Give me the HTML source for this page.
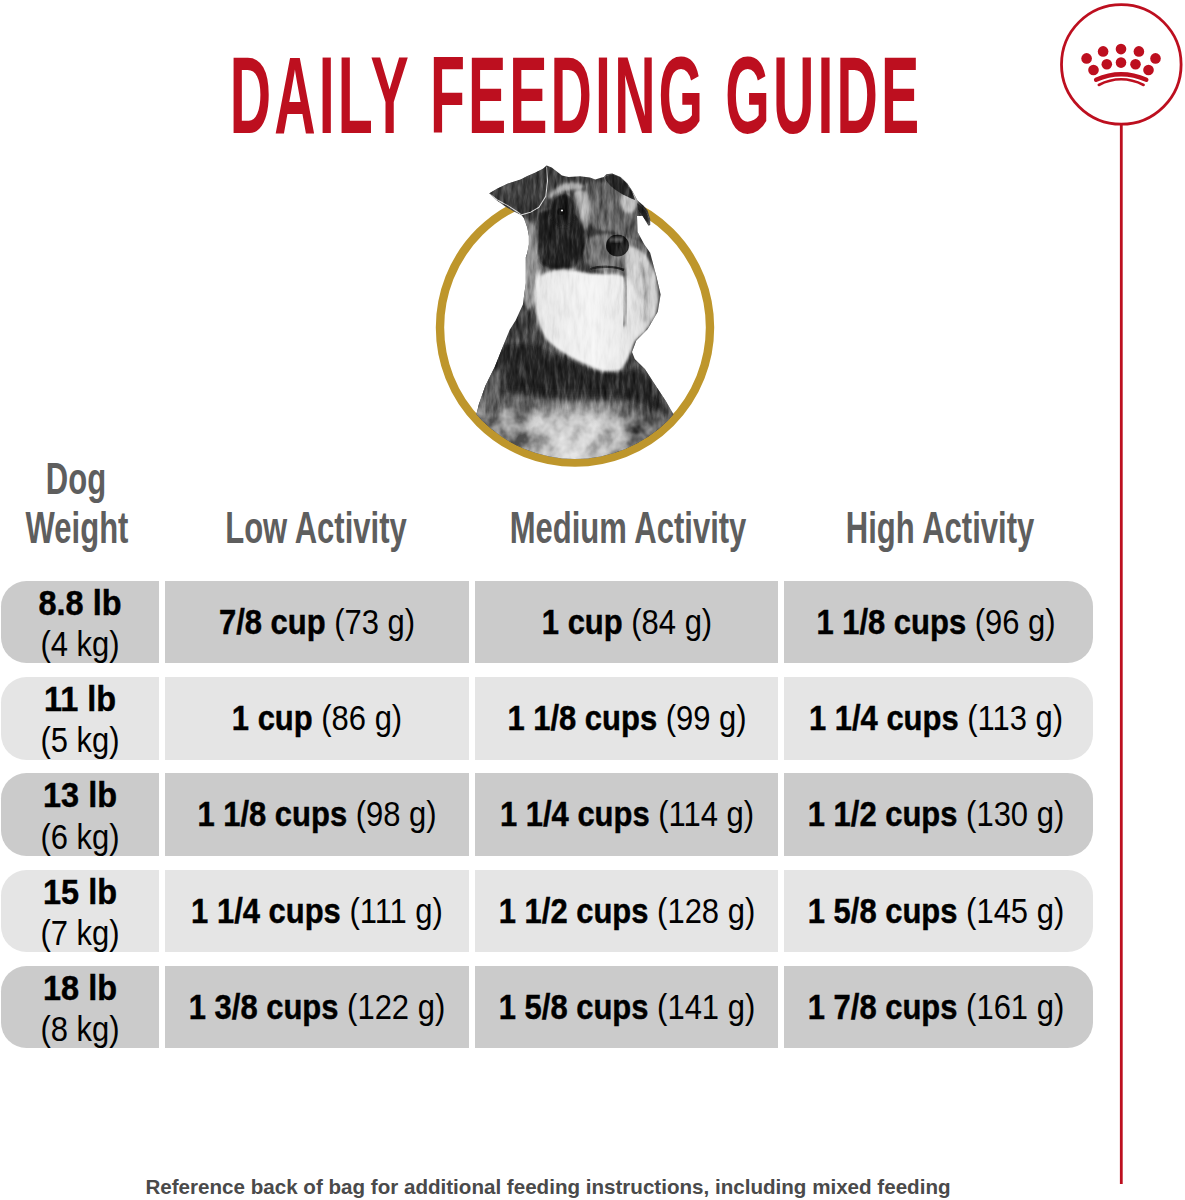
<!DOCTYPE html>
<html><head><meta charset="utf-8"><title>Daily Feeding Guide</title><style>
html,body{margin:0;padding:0;background:#fff}
html{overflow:hidden}
body{width:1185px;height:1200px;overflow:hidden;position:relative;font-family:"Liberation Sans",sans-serif}
.t{position:absolute;white-space:nowrap;line-height:1;transform-origin:50% 0;color:#000}
.t b{font-weight:700;-webkit-text-stroke:0.45px #000}
.t span{font-weight:400}
.cell{position:absolute}
.h{color:#5e5e5e;font-weight:700}
.title{color:#bd0f1f;font-weight:700;letter-spacing:6px}
.foot{color:#4a4a4a;font-weight:700}
svg{position:absolute;left:0;top:0}
</style></head><body>

<div class="t title" style="left:575.975px;top:40.53px;font-size:109px;transform:translateX(-50%) scaleX(0.525)">DAILY FEEDING GUIDE</div>
<div class="t h" style="left:76.2px;top:456.95px;font-size:44px;transform:translateX(-50%) scaleX(0.705)">Dog</div>
<div class="t h" style="left:76.6px;top:506.45px;font-size:44px;transform:translateX(-50%) scaleX(0.705)">Weight</div>
<div class="t h" style="left:316.3px;top:506.45px;font-size:44px;transform:translateX(-50%) scaleX(0.705)">Low Activity</div>
<div class="t h" style="left:627.5px;top:506.45px;font-size:44px;transform:translateX(-50%) scaleX(0.705)">Medium Activity</div>
<div class="t h" style="left:939.6px;top:506.45px;font-size:44px;transform:translateX(-50%) scaleX(0.705)">High Activity</div>
<div class="cell" style="left:0.8px;top:580.90px;width:158.50px;height:82.6px;background:#cbcbcb;border-radius:25.5px 0 0 25.5px;"></div>
<div class="cell" style="left:165.2px;top:580.90px;width:303.80px;height:82.6px;background:#cbcbcb;"></div>
<div class="cell" style="left:474.8px;top:580.90px;width:303.30px;height:82.6px;background:#cbcbcb;"></div>
<div class="cell" style="left:784.1px;top:580.90px;width:309.20px;height:82.6px;background:#cbcbcb;border-radius:0 25.5px 25.5px 0;"></div>
<div class="t " style="left:80px;top:585.02px;font-size:35.3px;transform:translateX(-50%) scaleX(0.919)"><b>8.8 lb</b></div>
<div class="t " style="left:80px;top:626.22px;font-size:35.3px;transform:translateX(-50%) scaleX(0.877)"><span>(4 kg)</span></div>
<div class="t " style="left:316.8px;top:604.02px;font-size:35.3px;transform:translateX(-50%) scaleX(0.877)"><b>7/8 cup</b> <span>(73 g)</span></div>
<div class="t " style="left:626.8px;top:604.02px;font-size:35.3px;transform:translateX(-50%) scaleX(0.877)"><b>1 cup</b> <span>(84 g)</span></div>
<div class="t " style="left:936px;top:604.02px;font-size:35.3px;transform:translateX(-50%) scaleX(0.877)"><b>1 1/8 cups</b> <span>(96 g)</span></div>
<div class="cell" style="left:0.8px;top:677.10px;width:158.50px;height:82.6px;background:#e5e5e5;border-radius:25.5px 0 0 25.5px;"></div>
<div class="cell" style="left:165.2px;top:677.10px;width:303.80px;height:82.6px;background:#e5e5e5;"></div>
<div class="cell" style="left:474.8px;top:677.10px;width:303.30px;height:82.6px;background:#e5e5e5;"></div>
<div class="cell" style="left:784.1px;top:677.10px;width:309.20px;height:82.6px;background:#e5e5e5;border-radius:0 25.5px 25.5px 0;"></div>
<div class="t " style="left:80px;top:681.22px;font-size:35.3px;transform:translateX(-50%) scaleX(0.919)"><b>11 lb</b></div>
<div class="t " style="left:80px;top:722.42px;font-size:35.3px;transform:translateX(-50%) scaleX(0.877)"><span>(5 kg)</span></div>
<div class="t " style="left:316.8px;top:700.22px;font-size:35.3px;transform:translateX(-50%) scaleX(0.877)"><b>1 cup</b> <span>(86 g)</span></div>
<div class="t " style="left:626.8px;top:700.22px;font-size:35.3px;transform:translateX(-50%) scaleX(0.877)"><b>1 1/8 cups</b> <span>(99 g)</span></div>
<div class="t " style="left:936px;top:700.22px;font-size:35.3px;transform:translateX(-50%) scaleX(0.877)"><b>1 1/4 cups</b> <span>(113 g)</span></div>
<div class="cell" style="left:0.8px;top:773.30px;width:158.50px;height:82.6px;background:#cbcbcb;border-radius:25.5px 0 0 25.5px;"></div>
<div class="cell" style="left:165.2px;top:773.30px;width:303.80px;height:82.6px;background:#cbcbcb;"></div>
<div class="cell" style="left:474.8px;top:773.30px;width:303.30px;height:82.6px;background:#cbcbcb;"></div>
<div class="cell" style="left:784.1px;top:773.30px;width:309.20px;height:82.6px;background:#cbcbcb;border-radius:0 25.5px 25.5px 0;"></div>
<div class="t " style="left:80px;top:777.42px;font-size:35.3px;transform:translateX(-50%) scaleX(0.919)"><b>13 lb</b></div>
<div class="t " style="left:80px;top:818.62px;font-size:35.3px;transform:translateX(-50%) scaleX(0.877)"><span>(6 kg)</span></div>
<div class="t " style="left:316.8px;top:796.42px;font-size:35.3px;transform:translateX(-50%) scaleX(0.877)"><b>1 1/8 cups</b> <span>(98 g)</span></div>
<div class="t " style="left:626.8px;top:796.42px;font-size:35.3px;transform:translateX(-50%) scaleX(0.877)"><b>1 1/4 cups</b> <span>(114 g)</span></div>
<div class="t " style="left:936px;top:796.42px;font-size:35.3px;transform:translateX(-50%) scaleX(0.877)"><b>1 1/2 cups</b> <span>(130 g)</span></div>
<div class="cell" style="left:0.8px;top:869.50px;width:158.50px;height:82.6px;background:#e5e5e5;border-radius:25.5px 0 0 25.5px;"></div>
<div class="cell" style="left:165.2px;top:869.50px;width:303.80px;height:82.6px;background:#e5e5e5;"></div>
<div class="cell" style="left:474.8px;top:869.50px;width:303.30px;height:82.6px;background:#e5e5e5;"></div>
<div class="cell" style="left:784.1px;top:869.50px;width:309.20px;height:82.6px;background:#e5e5e5;border-radius:0 25.5px 25.5px 0;"></div>
<div class="t " style="left:80px;top:873.62px;font-size:35.3px;transform:translateX(-50%) scaleX(0.919)"><b>15 lb</b></div>
<div class="t " style="left:80px;top:914.82px;font-size:35.3px;transform:translateX(-50%) scaleX(0.877)"><span>(7 kg)</span></div>
<div class="t " style="left:316.8px;top:892.62px;font-size:35.3px;transform:translateX(-50%) scaleX(0.877)"><b>1 1/4 cups</b> <span>(111 g)</span></div>
<div class="t " style="left:626.8px;top:892.62px;font-size:35.3px;transform:translateX(-50%) scaleX(0.877)"><b>1 1/2 cups</b> <span>(128 g)</span></div>
<div class="t " style="left:936px;top:892.62px;font-size:35.3px;transform:translateX(-50%) scaleX(0.877)"><b>1 5/8 cups</b> <span>(145 g)</span></div>
<div class="cell" style="left:0.8px;top:965.70px;width:158.50px;height:82.6px;background:#cbcbcb;border-radius:25.5px 0 0 25.5px;"></div>
<div class="cell" style="left:165.2px;top:965.70px;width:303.80px;height:82.6px;background:#cbcbcb;"></div>
<div class="cell" style="left:474.8px;top:965.70px;width:303.30px;height:82.6px;background:#cbcbcb;"></div>
<div class="cell" style="left:784.1px;top:965.70px;width:309.20px;height:82.6px;background:#cbcbcb;border-radius:0 25.5px 25.5px 0;"></div>
<div class="t " style="left:80px;top:969.82px;font-size:35.3px;transform:translateX(-50%) scaleX(0.919)"><b>18 lb</b></div>
<div class="t " style="left:80px;top:1011.02px;font-size:35.3px;transform:translateX(-50%) scaleX(0.877)"><span>(8 kg)</span></div>
<div class="t " style="left:316.8px;top:988.82px;font-size:35.3px;transform:translateX(-50%) scaleX(0.877)"><b>1 3/8 cups</b> <span>(122 g)</span></div>
<div class="t " style="left:626.8px;top:988.82px;font-size:35.3px;transform:translateX(-50%) scaleX(0.877)"><b>1 5/8 cups</b> <span>(141 g)</span></div>
<div class="t " style="left:936px;top:988.82px;font-size:35.3px;transform:translateX(-50%) scaleX(0.877)"><b>1 7/8 cups</b> <span>(161 g)</span></div>
<div class="t foot" style="left:547.5px;top:1176.65px;font-size:20.5px;transform:translateX(-50%) scaleX(1.004)">Reference back of bag for additional feeding instructions, including mixed feeding</div>
<svg width="1185" height="1200" viewBox="0 0 1185 1200">
 <defs>
  <clipPath id="dc"><circle cx="575" cy="327.5" r="131.5"/><rect x="0" y="0" width="1185" height="300"/></clipPath>
  <clipPath id="sil"><path d="M489.3,193.3 L496.9,188.7 507.8,183.6 520.5,179.4 527.3,176 534.9,172.7 543.3,168.4 546.7,165.5 551.7,167.6 558.5,172.7 561.9,175.6 568.6,176.9 580,176.3 590,177.5 595.3,179.4 600,178 603.8,176.9 606.3,174.3 612.2,173.5 620.6,176.9 627.4,183.6 632.4,191.2 637.5,200.5 643.4,205.6 647.6,210.6 650.2,219.1 650.2,225 648.5,225.8 642.6,216 637,216 637.5,231.7 644.3,244.4 650.2,252.8 656.3,275.9 660.6,294.5 657.8,311.7 647.7,329 636.3,340.4 632,351.9 634.8,359.1 644.9,369.1 654.4,383.8 665.5,400.6 673,413.5 690,440 700,480 450,480 470,430 477.1,411.7 478.9,404.3 485.4,385.7 494.7,367.1 502.1,348.6 509.6,330 515.7,320.3 522.9,304.6 525.8,283 525.8,257.2 527.3,252.8 528.9,244.4 528.9,236 527.3,227.5 523.9,218.2 521.4,214.9 513.8,211.5 505.3,206.4 496.9,200.5 Z"/></clipPath>
  <radialGradient id="chest" cx="575" cy="440" r="70" gradientUnits="userSpaceOnUse"><stop offset="0" stop-color="#dcdcdc"/><stop offset="0.6" stop-color="#b4b4b4"/><stop offset="1" stop-color="#7a7a7a"/></radialGradient>
  <linearGradient id="beard" x1="540" y1="0" x2="660" y2="0" gradientUnits="userSpaceOnUse"><stop offset="0" stop-color="#e6e6e6"/><stop offset="0.45" stop-color="#f4f4f4"/><stop offset="0.75" stop-color="#e4e4e4"/><stop offset="1" stop-color="#c4c4c4"/></linearGradient>
  <filter id="tex" filterUnits="userSpaceOnUse" x="430" y="150" width="300" height="330" color-interpolation-filters="sRGB">
   <feTurbulence type="fractalNoise" baseFrequency="0.25 0.05" numOctaves="3" seed="5" result="n"/>
   <feColorMatrix in="n" type="matrix" values="1 0 0 0 0  1 0 0 0 0  1 0 0 0 0  0 0 0 0 1" result="g"/>
   <feComponentTransfer in="g" result="gs"><feFuncR type="linear" slope="1.0" intercept="0"/><feFuncG type="linear" slope="1.0" intercept="0"/><feFuncB type="linear" slope="1.0" intercept="0"/></feComponentTransfer>
   <feBlend in="gs" in2="SourceGraphic" mode="soft-light" result="b"/>
   <feComposite in="b" in2="SourceAlpha" operator="in"/>
  </filter>
  <filter id="mot" filterUnits="userSpaceOnUse" x="430" y="330" width="300" height="160" color-interpolation-filters="sRGB">
   <feTurbulence type="fractalNoise" baseFrequency="0.07 0.06" numOctaves="3" seed="11" result="n"/>
   <feColorMatrix in="n" type="matrix" values="1 0 0 0 0  1 0 0 0 0  1 0 0 0 0  0 0 0 0 1" result="g"/>
   <feComponentTransfer in="g" result="gs"><feFuncR type="linear" slope="1.8" intercept="-0.4"/><feFuncG type="linear" slope="1.8" intercept="-0.4"/><feFuncB type="linear" slope="1.8" intercept="-0.4"/></feComponentTransfer>
   <feBlend in="gs" in2="SourceGraphic" mode="soft-light" result="b"/>
   <feComposite in="b" in2="SourceAlpha" operator="in"/>
  </filter>
  <filter id="bl1" x="-20%" y="-20%" width="140%" height="140%"><feGaussianBlur stdDeviation="1.5"/></filter>
  <filter id="bl3" x="-20%" y="-20%" width="140%" height="140%"><feGaussianBlur stdDeviation="3"/></filter>
  <filter id="bl6" x="-30%" y="-30%" width="160%" height="160%"><feGaussianBlur stdDeviation="6"/></filter>
 </defs>
 <!-- logo -->
 <circle cx="1121.3" cy="64.4" r="59.8" fill="none" stroke="#bd0f1f" stroke-width="2.8"/>
 <rect x="1119.9" y="124" width="2.8" height="1060" fill="#bd0f1f"/>
 <g fill="#bd0f1f">
  <circle cx="1086.6" cy="58.4" r="5.3"/><circle cx="1103.1" cy="51.4" r="5.3"/><circle cx="1121" cy="49.1" r="5.3"/><circle cx="1138.9" cy="51.4" r="5.3"/><circle cx="1155.5" cy="58.4" r="5.3"/>
  <circle cx="1093.5" cy="70" r="5.3"/><circle cx="1106.8" cy="64.3" r="5.3"/><circle cx="1121" cy="62.6" r="5.3"/><circle cx="1135.5" cy="64.3" r="5.3"/><circle cx="1148.5" cy="70" r="5.3"/>
 </g>
 <g fill="none" stroke="#bd0f1f" stroke-linecap="round">
  <path d="M1096.1,79.8 Q1121,68.6 1146.3,79.8" stroke-width="4.4"/>
  <path d="M1098.8,85 Q1121,73.6 1143.6,85" stroke-width="2.6"/>
 </g>
 <!-- ring -->
 <circle cx="575" cy="327.5" r="135" fill="none" stroke="#be962c" stroke-width="8.4"/>
 <!-- dog -->
 <g clip-path="url(#dc)">
 <g clip-path="url(#sil)"><g filter="url(#tex)">
  <rect x="440" y="150" width="280" height="340" fill="#3e3e3e"/>
  </g>
  <g filter="url(#mot)">
  <path d="M470,392 C500,386 530,394 560,398 C590,401 615,398 640,404 C660,410 670,420 680,430 L700,480 L450,480 Z" fill="url(#chest)" filter="url(#bl3)"/>
  <ellipse cx="505" cy="430" rx="25" ry="28" fill="#8c8c8c" filter="url(#bl3)"/>
  <ellipse cx="650" cy="425" rx="22" ry="30" fill="#5e5e5e" filter="url(#bl3)"/>
  </g>
  <g filter="url(#tex)">
  <!-- collar dark -->
  <path d="M495,345 C520,335 545,345 570,358 C600,372 625,372 640,365 C655,378 666,398 670,418 C655,412 640,404 615,400 C590,398 565,402 540,400 C520,398 500,392 485,396 Z" fill="#262626" filter="url(#bl3)"/>
  <path d="M490,392 C520,396 560,400 600,398 C630,398 650,405 668,416 C660,425 640,418 615,410 C590,406 560,410 530,410 C510,408 495,402 490,392 Z" fill="#3a3a3a" opacity="0.7" filter="url(#bl6)"/>
  <ellipse cx="492" cy="392" rx="13" ry="24" fill="#5e5e5e" filter="url(#bl3)"/>
  <!-- face side light -->
  <path d="M525,218 C536,222 545,240 546,262 C546,282 538,300 528,312 L522,295 L524,250 Z" fill="#959595" filter="url(#bl1)"/>
  <path d="M542,262 C552,258 566,262 578,268 C570,272 556,274 544,280 Z" fill="#707070" filter="url(#bl1)"/>
  <!-- cheek dark -->
  <path d="M538,212 C555,205 575,210 585,222 C590,240 585,258 575,268 C560,272 545,270 540,262 C536,245 535,228 538,212 Z" fill="#242424" filter="url(#bl1)"/>
  <ellipse cx="563" cy="210" rx="13" ry="17" fill="#1e1e1e" filter="url(#bl1)"/>
  <!-- forehead mid -->
  <path d="M584,184 C598,180 615,182 628,192 C638,205 640,222 638,238 C630,240 620,232 605,230 C595,230 590,226 586,215 Z" fill="#666" filter="url(#bl1)"/>
  <!-- left brow crescent -->
  <path d="M548,197 C553,186 568,178 584,185 C586,188 582,191 574,190 C564,190 556,194 550,200 Z" fill="#a4a4a4" filter="url(#bl1)"/>
  <!-- light strip between eyes -->
  <path d="M574,192 C580,187 587,189 589,197 C590,211 589,223 587,232 C583,228 578,215 576,205 Z" fill="#b2b2b2" filter="url(#bl1)"/>
  <!-- right brow -->
  <ellipse cx="629" cy="201" rx="9" ry="12" fill="#bcbcbc" filter="url(#bl1)"/>
  <!-- mustache -->
  <path d="M588,238 C600,232 630,232 645,245 C650,258 645,270 630,274 C610,276 595,272 588,262 Z" fill="#777" filter="url(#bl1)"/>
  <!-- right hair -->
  <path d="M628,246 C645,248 652,262 657,278 C661,294 659,310 650,326 C644,334 638,338 630,342 C627,320 625,300 625,282 C625,268 626,255 628,246 Z" fill="#cfcfcf" filter="url(#bl1)"/>
  <!-- beard -->
  <path d="M540,276 C548,270 560,268 575,270 C585,272 595,274 612,273 C622,273 628,276 632,285 C638,296 646,305 652,312 C650,322 642,332 636,340 C632,350 628,362 622,370 C612,374 598,372 588,366 C572,360 556,350 546,340 C538,328 534,312 534,295 C534,282 536,274 540,268 Z" fill="url(#beard)" filter="url(#bl1)"/>

  <path d="M624,268 C627,285 627,300 624,326" stroke="#6a6a6a" stroke-width="3" fill="none" opacity="0.75" filter="url(#bl1)"/>
  <path d="M640,262 C646,280 648,300 645,322" stroke="#8a8a8a" stroke-width="2" fill="none" filter="url(#bl1)"/>
  <!-- lip line -->
  <path d="M590,269 C600,266 615,266 624,270" stroke="#2a2a2a" stroke-width="2.5" fill="none"/>
  <!-- nose -->
  <ellipse cx="617.5" cy="245.5" rx="11.5" ry="11" fill="#161616"/>
  <ellipse cx="616" cy="239.5" rx="7" ry="2.2" fill="#6a6a6a" filter="url(#bl1)"/>
  <!-- eye -->
  <ellipse cx="561" cy="211.5" rx="4" ry="3.5" fill="#111"/>
  <circle cx="562" cy="210.5" r="1.1" fill="#eee"/>
  <!-- left ear -->
  <path d="M489.3,193.3 L496.9,188.7 507.8,183.6 520.5,179.4 527.3,176 534.9,172.7 543.3,168.4 546.7,165.5 547.5,181 545.8,196.3 539,207.3 530.6,212.3 521.4,214.9 518,212.3 507.8,205.6 496.9,199.7 489.3,193.8 Z" fill="#3c3c3c"/>
  <path d="M489.8,194.2 L496.9,199.7 507.8,205.6 518,212.3 521.4,214.9 530.6,212.3 539,207.3 545.8,196.3 547.5,181 546.7,166.5" fill="none" stroke="#d8d8d8" stroke-width="1.1"/>
  <!-- right ear -->
  <path d="M604,178 C606,175 612,173 620,177 C628,184 633,192 635,200 C625,196 612,190 604,178 Z" fill="#2a2a2a"/>
  <path d="M637,203 C644,207 649,214 650,224 C646,222 642,216 638,210 Z" fill="#2a2a2a"/>
 </g></g>
 </g>
</svg>

</body></html>
